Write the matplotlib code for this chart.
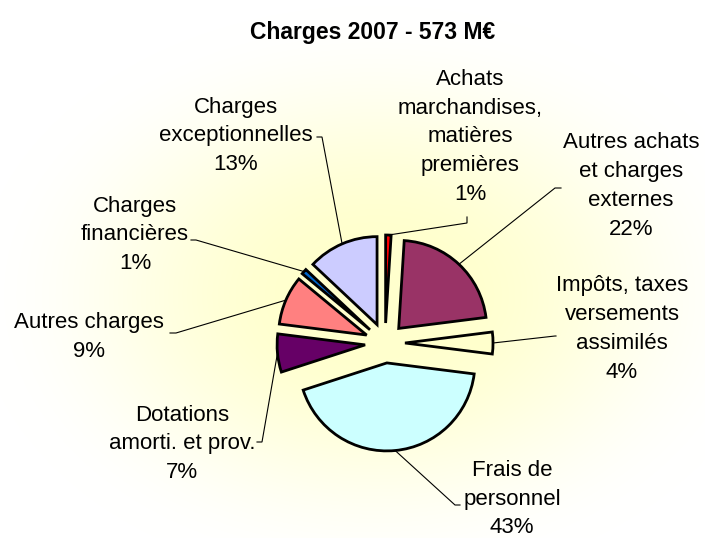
import numpy as np
import matplotlib
matplotlib.use("Agg")
import matplotlib.pyplot as plt

# ---- data ----
title = "Charges 2007 - 573 M€"
categories = [
    "Achats\nmarchandises,\nmatières\npremières",
    "Autres achats\net charges\nexternes",
    "Impôts, taxes\nversements\nassimilés",
    "Frais de\npersonnel",
    "Dotations\namorti. et prov.",
    "Autres charges",
    "Charges\nfinancières",
    "Charges\nexceptionnelles",
]
shares = [1, 22, 4, 43, 7, 9, 1, 13]
colors = ["#FF0000", "#993366", "#FFFFCC", "#CCFFFF",
          "#660066", "#FF8080", "#0066CC", "#CCCCFF"]

# ---- layout (pixels, origin top-left) ----
W, H = 705, 538
CX, CY, R = 385, 343, 88          # pie centre and radius in px
label_pos = [(470, 137), (631, 186), (622, 329), (512, 499),
             (182, 444), (89, 337), (135, 235), (236, 136)]
bend_pos = [(467, 223), (555, 188), (555, 336), (455, 505),
            (262, 442), (176, 333), (196, 240), (322, 137)]
tick_pos = [(467, 217), (561, 188), (556, 336), (460, 505),
            (257, 442), (170, 333), (191, 240), (317, 137)]


def to_data(p):
    return ((p[0] - CX) / R, (CY - p[1]) / R)


fig = plt.figure(figsize=(W / 100, H / 100), dpi=100)

# background radial gradient
bg = fig.add_axes([0, 0, 1, 1], zorder=0)
yy, xx = np.mgrid[0:H, 0:W]
d = np.sqrt(((xx - 375) / 400.0) ** 2 + ((yy - 295) / 290.0) ** 2)
u = np.clip((d - 0.15) / (1.0 - 0.15), 0, 1)
t = 1 - (3 * u ** 2 - 2 * u ** 3)
white = np.array([1.0, 1.0, 1.0])
yellow = np.array([1.0, 1.0, 205 / 255])
img = white[None, None, :] * (1 - t[..., None]) + yellow[None, None, :] * t[..., None]
bg.imshow(img, aspect="auto", extent=(0, W, H, 0))
bg.axis("off")

ax = fig.add_axes([0, 0, 1, 1], zorder=1)
ax.patch.set_alpha(0)
wedges, _ = ax.pie(shares, colors=colors, startangle=90, counterclock=False,
                   explode=[20 / R] * len(shares), radius=1,
                   wedgeprops=dict(edgecolor="black", linewidth=2.0))
ax.set_aspect("auto")
ax.set_xlim(-CX / R, (W - CX) / R)
ax.set_ylim((CY - H) / R, CY / R)
ax.axis("off")

for w, lab, s, lp, bp, tp in zip(wedges, categories, shares,
                                 label_pos, bend_pos, tick_pos):
    mid = np.deg2rad((w.theta1 + w.theta2) / 2)
    sx = w.center[0] + w.r * np.cos(mid)
    sy = w.center[1] + w.r * np.sin(mid)
    bx, by = to_data(bp)
    tx, ty = to_data(tp)
    ax.plot([sx, bx, tx], [sy, by, ty], color="black", lw=0.8,
            solid_joinstyle="miter")
    x, y = to_data(lp)
    ax.text(x, y, f"{lab}\n{s}%", ha="center", va="center",
            multialignment="center", fontsize=16, linespacing=1.48,
            family=["Liberation Sans", "DejaVu Sans"], color="black")

fig.text(373 / W, 1 - 32 / H, title, ha="center", va="center",
         fontsize=16.5, fontweight="bold",
         family=["Liberation Sans", "DejaVu Sans"])

fig.savefig("out.png", dpi=100)
